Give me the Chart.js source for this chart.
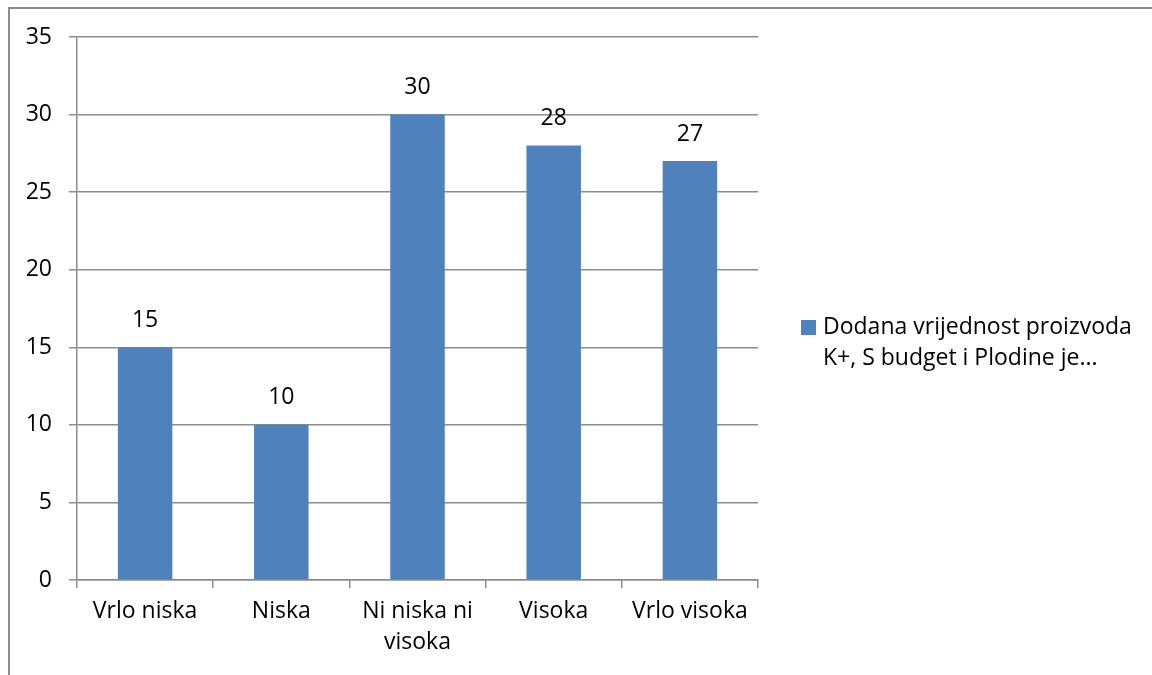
<!DOCTYPE html>
<html lang="hr">

<head>
  <meta charset="UTF-8" />
  <title>Dodana vrijednost proizvoda</title>
  <script src="https://cdn.jsdelivr.net/npm/chart.js"></script>
  <style>
    html, body { margin: 0; padding: 0; background: #fff; overflow: hidden; }
    #wrap { position: relative; width: 1152px; height: 675px; }
    #frame {
      position: absolute; left: 8px; top: 7px; width: 1200px; height: 700px;
      border-left: 2px solid #8c8c8c; border-top: 2px solid #8c8c8c;
      box-sizing: border-box;
    }
  </style>
</head>

<body>
  <div id="wrap">
    <div id="frame"></div>
    <canvas id="chart" width="1152" height="675"></canvas>
  </div>

  <script>
    // podaci
    const categories = [['Vrlo niska'], ['Niska'], ['Ni niska ni', 'visoka'], ['Visoka'], ['Vrlo visoka']];
    const values = [15, 10, 30, 28, 27];
    const seriesName = 'Dodana vrijednost proizvoda K+, S budget i Plodine je...';
    const legendLines = ['Dodana vrijednost proizvoda', 'K+, S budget i Plodine je...'];
    const yTicks = [0, 5, 10, 15, 20, 25, 30, 35];

    const barColor = '#4F81BD';
    const lineColor = '#8c8c8c';
    const font = { family: "'Open Sans', sans-serif", size: 23 };

    // brojevi iznad stupaca
    const valueLabels = {
      id: 'valueLabels',
      afterDatasetsDraw(chart) {
        const ctx = chart.ctx;
        const meta = chart.getDatasetMeta(0);
        ctx.save();
        ctx.font = font.size + 'px ' + font.family;
        ctx.fillStyle = '#000';
        ctx.textAlign = 'center';
        ctx.textBaseline = 'middle';
        meta.data.forEach((bar, i) => {
          ctx.fillText(values[i], bar.x, bar.y - 27);
        });
        ctx.restore();
      }
    };

    // legenda desno, u dva reda
    const sideLegend = {
      id: 'sideLegend',
      afterDraw(chart) {
        const ctx = chart.ctx;
        ctx.save();
        ctx.fillStyle = barColor;
        ctx.fillRect(801, 320, 15, 15);
        ctx.font = font.size + 'px ' + font.family;
        ctx.fillStyle = '#000';
        ctx.textAlign = 'left';
        ctx.textBaseline = 'middle';
        legendLines.forEach((line, i) => {
          ctx.fillText(line, 823, 327 + i * 31);
        });
        ctx.restore();
      }
    };

    new Chart(document.getElementById('chart').getContext('2d'), {
      type: 'bar',
      data: {
        labels: categories,
        datasets: [{
          label: seriesName,
          data: values,
          backgroundColor: barColor,
          borderWidth: 0,
          categoryPercentage: 1,
          barPercentage: 0.4
        }]
      },
      options: {
        responsive: false,
        animation: false,
        layout: { padding: { top: 37, right: 394, left: 0, bottom: 0 } },
        plugins: {
          legend: { display: false },
          tooltip: { enabled: false }
        },
        scales: {
          x: {
            grid: {
              offset: true,
              drawOnChartArea: false,
              drawTicks: true,
              tickLength: 8,
              color: lineColor,
              lineWidth: 1.5
            },
            border: { display: true, color: lineColor, width: 1.5 },
            ticks: {
              color: '#000',
              font: { ...font, lineHeight: 1.35 },
              padding: 8,
              maxRotation: 0,
              autoSkip: false
            },
            afterFit(scale) { scale.height = 95; }
          },
          y: {
            min: 0,
            max: 35,
            afterBuildTicks(scale) { scale.ticks = yTicks.map(v => ({ value: v })); },
            grid: {
              color: lineColor,
              lineWidth: 1.5,
              tickLength: 8
            },
            border: { display: true, color: lineColor, width: 1.5 },
            ticks: {
              color: '#000',
              font: font,
              padding: 17
            },
            afterFit(scale) { scale.width = 77; }
          }
        }
      },
      plugins: [valueLabels, sideLegend]
    });
  </script>
</body>

</html>
